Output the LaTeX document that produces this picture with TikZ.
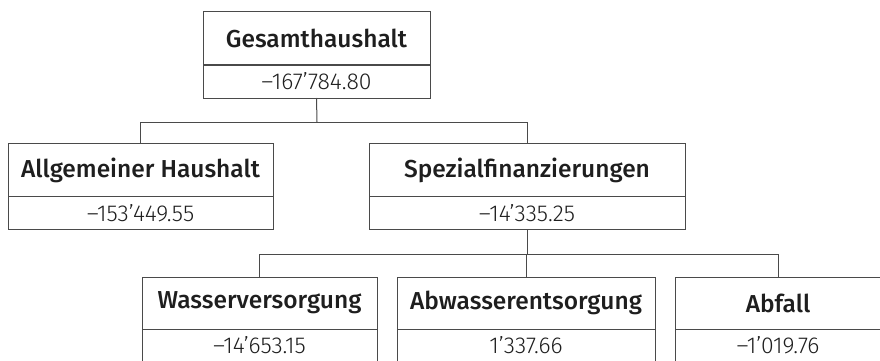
\documentclass[tikz,border=0pt]{standalone}
\usepackage{fontspec}
\setmainfont{Fira Sans}
\newfontfamily\headfont{Fira Sans Medium}
\newfontfamily\valfont{Fira Sans Light}
\usetikzlibrary{positioning}
\definecolor{linegray}{HTML}{4A4A4A}
\definecolor{textblack}{HTML}{1E1E1E}

\begin{document}
\begin{tikzpicture}[x=1pt,y=-1pt,
  head/.style={draw=linegray,line width=1pt,outer sep=0pt,inner sep=0pt,minimum height=53pt,text=textblack,font=\fontsize{24.5}{28}\headfont},
  val/.style={draw=linegray,line width=1pt,outer sep=0pt,inner sep=0pt,minimum height=33pt,text=textblack,font=\fontsize{23}{27}\valfont},
  conn/.style={draw=linegray,line width=1pt}]
\useasboundingbox (0,0) rectangle (880,361);

\node[head,minimum width=227pt] at (316.5,38.5) (ges) {Gesamthaushalt};
\node[val,minimum width=227pt,below=0pt of ges] (gesv) {–167’784.80};

\node[head,minimum width=265pt] at (140.5,170) (allg) {Allgemeiner Haushalt};
\node[val,minimum width=265pt,below=0pt of allg] (allgv) {–153’449.55};
\node[head,minimum width=316pt] at (527,170) (spez) {Spezialfinanzierungen};
\node[val,minimum width=316pt,below=0pt of spez] (spezv) {–14’335.25};

\node[head,minimum width=235pt,minimum height=52pt] at (259.5,303) (wass) {Wasserversorgung};
\node[val,minimum width=235pt,below=0pt of wass] (wassv) {–14’653.15};
\node[head,minimum width=258pt,minimum height=52pt] at (526,303) (abw) {Abwasserentsorgung};
\node[val,minimum width=258pt,below=0pt of abw] (abwv) {1’337.66};
\node[head,minimum width=206pt,minimum height=52pt] at (778,303) (abf) {Abfall};
\node[val,minimum width=206pt,below=0pt of abf] (abfv) {–1’019.76};

\coordinate (j1) at (317,122);
\coordinate (j2) at (527,254);
\draw[conn] (gesv.south) -- (j1);
\draw[conn] (j1) -| (allg.north);
\draw[conn] (j1) -| (spez.north);
\draw[conn] (spezv.south) -- (j2);
\draw[conn] (j2) -| (wass.north);
\draw[conn] (j2) -| (abw.north);
\draw[conn] (j2) -| (abf.north);
\end{tikzpicture}
\end{document}
